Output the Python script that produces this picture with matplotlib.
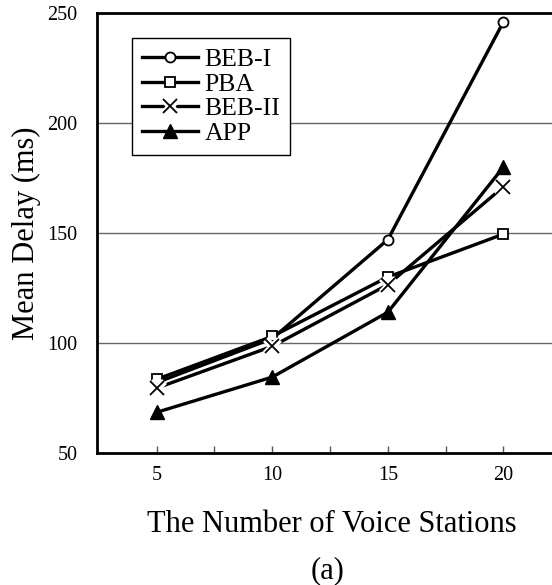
import matplotlib.pyplot as plt
from matplotlib.legend_handler import HandlerTuple

plt.rcParams['font.family'] = ['Liberation Serif', 'DejaVu Serif']

# Mean delay vs. number of voice stations
stations = [5, 10, 15, 20]
beb1 = [82, 102, 147, 246]
pba = [83.5, 103, 130, 149.5]
beb2 = [79.5, 98.5, 126.5, 171]
app = [68.5, 84.5, 114, 180]

y_ticks = [50, 100, 150, 200, 250]

fig = plt.figure(figsize=(5.52, 5.85), dpi=100)
ax = fig.add_axes([97 / 552, 132 / 585, 455 / 552, 440 / 585])

lw = 2.4
h1, = ax.plot(stations, beb1, color='black', lw=lw, marker='o', ms=7.2,
              mfc='white', mec='black', mew=1.3, zorder=3)
h2, = ax.plot(stations, pba, color='black', lw=lw, marker='s', ms=7.2,
              mfc='white', mec='black', mew=1.3, zorder=3)
# BEB-II: line, then a white halo under each cross so the line breaks around it
h3a, = ax.plot(stations, beb2, color='black', lw=lw, zorder=3)
h3b, = ax.plot(stations, beb2, ls='none', marker='x', ms=9.5,
               mec='white', mew=5, zorder=4)
h3c, = ax.plot(stations, beb2, ls='none', marker='x', ms=9.5,
               mec='black', mew=1.3, zorder=5)
h4, = ax.plot(stations, app, color='black', lw=lw, marker='^', ms=9.5,
              mfc='black', mec='black', zorder=3)

ax.set_xlim(2.42, 22.1)
ax.set_ylim(50, 250)
ax.set_yticks(y_ticks)
ax.set_xticks(stations)
ax.set_xticks([7.5, 12.5, 17.5], minor=True)

ax.yaxis.grid(True, color='#666666', lw=1.0)
ax.set_axisbelow(True)

for side in ('top', 'left', 'bottom'):
    ax.spines[side].set_linewidth(2.0)
ax.spines['right'].set_visible(False)

ax.tick_params(axis='y', length=0, pad=14, labelsize=14.5)
ax.tick_params(axis='x', which='both', direction='in', length=5,
               width=1, color='#555555', pad=9, labelsize=14.5)

ax.set_ylabel('Mean Delay (ms)', fontsize=22)
ax.yaxis.set_label_coords(-0.122, 0.5)

fig.text(332 / 552, 1 - 532 / 585, 'The Number of Voice Stations',
         fontsize=22, ha='center', va='baseline')
fig.text(328 / 552, 1 - 578 / 585, '(a)', fontsize=22,
         ha='center', va='baseline')

leg = ax.legend([h1, h2, (h3a, h3b, h3c), h4],
                ['BEB-I', 'PBA', 'BEB-II', 'APP'],
                handler_map={tuple: HandlerTuple(ndivide=1)},
                loc='upper left', bbox_to_anchor=(35 / 455, 1 - 25 / 440),
                fontsize=18.5, frameon=True, fancybox=False, framealpha=1,
                edgecolor='black', handlelength=2.2, handletextpad=0.25,
                labelspacing=0.07, borderpad=0.38, borderaxespad=0)
leg.get_frame().set_linewidth(1.0)

fig.savefig('out.png', dpi=100)
